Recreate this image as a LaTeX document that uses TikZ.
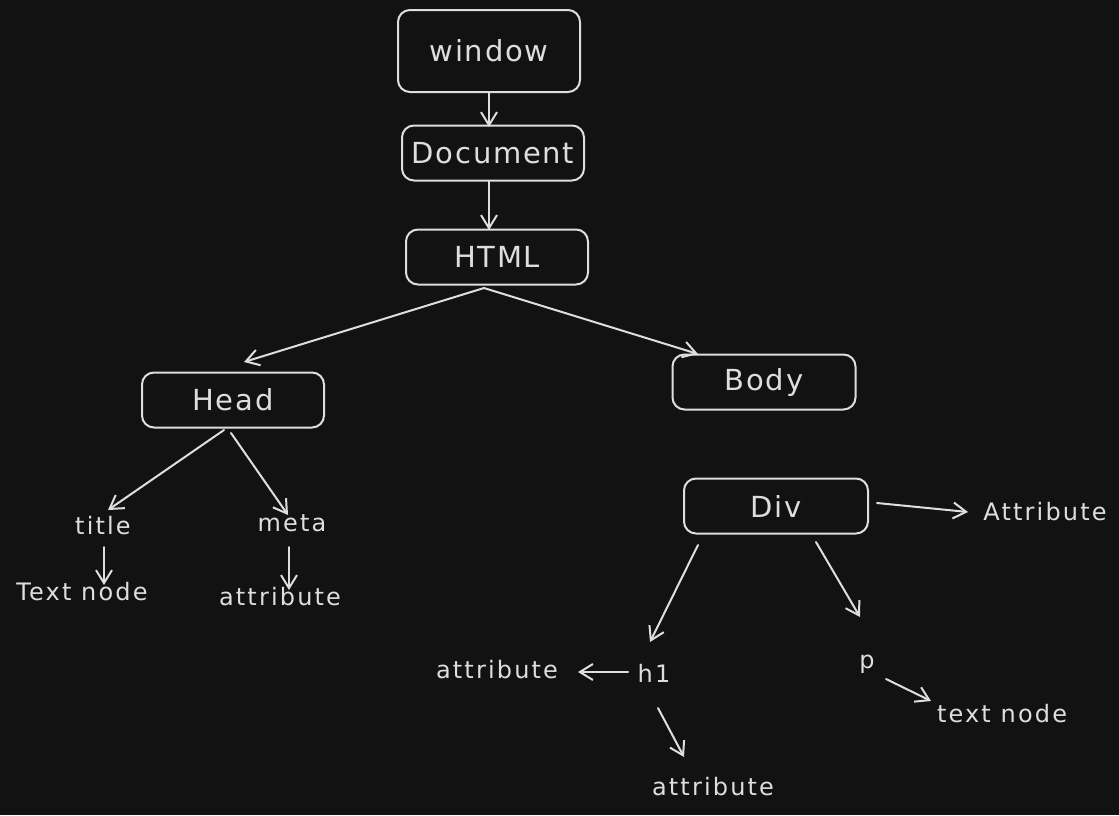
\documentclass[tikz,border=0pt]{standalone}
\usepackage{fontspec}
\setmainfont{DejaVu Sans}[LetterSpace=6]
\usetikzlibrary{arrows.meta,calc}
\definecolor{bg}{HTML}{121212}
\definecolor{ink}{HTML}{DEDEDE}
\begin{document}
\begin{tikzpicture}[x=1pt,y=-1pt,
  box/.style={draw=ink, line width=2pt, rounded corners=12pt, minimum width=182pt, minimum height=55pt, text=ink, font=\fontsize{29}{32}\selectfont, inner sep=0pt},
  lbl/.style={text=ink, font=\fontsize{24}{26}\selectfont\addfontfeatures{LetterSpace=9}, inner sep=0pt},
  arr/.style={draw=ink, line width=2pt, line cap=round, -{Straight Barb[length=13pt,width=16pt]}}]
\fill[bg] (0,0) rectangle (1119,815);
\useasboundingbox (0,0) rectangle (1119,815);
% boxes
\node[box, minimum height=82pt] (window) at (489,51) {window};
\node[box] (doc) at (493,153) {Document};
\node[box] (html) at (497,257) {HTML};
\node[box] (head) at (233,400) {Head};
\node[box, minimum width=183pt] (body) at (764,382) {Body};
\node[box, minimum width=184pt] (div) at (776,506) {Div};
% labels
\node[lbl] (title) at (103,526) {title};
\node[lbl] (meta) at (292,523) {meta};
\node[lbl] (tnode) at (82,592) {Text node};
\node[lbl] (mattr) at (280,597) {attribute};
\node[lbl] (dattr) at (1045,512) {Attribute};
\node[lbl] (h1) at (654,673) {h1};
\node[lbl] (hattrl) at (497,670) {attribute};
\node[lbl] (hattrb) at (713,787) {attribute};
\node[lbl] (p) at (867,664) {p};
\node[lbl] (ptext) at (1002,714) {text node};
% connectors
\draw[arr] ($(window)+(0,41)$) -- ($(doc)+(-4,-26)$);
\draw[arr] ($(doc)+(-4,28)$) -- ($(html)+(-8,-27)$);
\draw[arr] ($(html)+(-13,31)$) -- ($(head)+(11,-38)$);
\draw[arr] ($(html)+(-13,31)$) -- ($(body)+(-66,-28)$);
\draw[arr] ($(head)+(-9,30)$) -- ($(title)+(5,-16)$);
\draw[arr] ($(head)+(-2,33)$) -- ($(meta)+(-4,-8)$);
\draw[arr] ($(title)+(1,21)$) -- ($(tnode)+(22,-7)$);
\draw[arr] ($(meta)+(-3,24)$) -- ($(mattr)+(9,-7)$);
\draw[arr] ($(div)+(101,-3)$) -- ($(dattr)+(-77,0)$);
\draw[arr] ($(div)+(-78,39)$) -- ($(h1)+(-4,-31)$);
\draw[arr] ($(div)+(40,36)$) -- ($(p)+(-7,-47)$);
\draw[arr] ($(h1)+(-26,-1)$) -- ($(hattrl)+(81,2)$);
\draw[arr] ($(h1)+(4,35)$) -- ($(hattrb)+(-29,-30)$);
\draw[arr] ($(p)+(19,15)$) -- ($(ptext)+(-71,-13)$);
\end{tikzpicture}
\end{document}
